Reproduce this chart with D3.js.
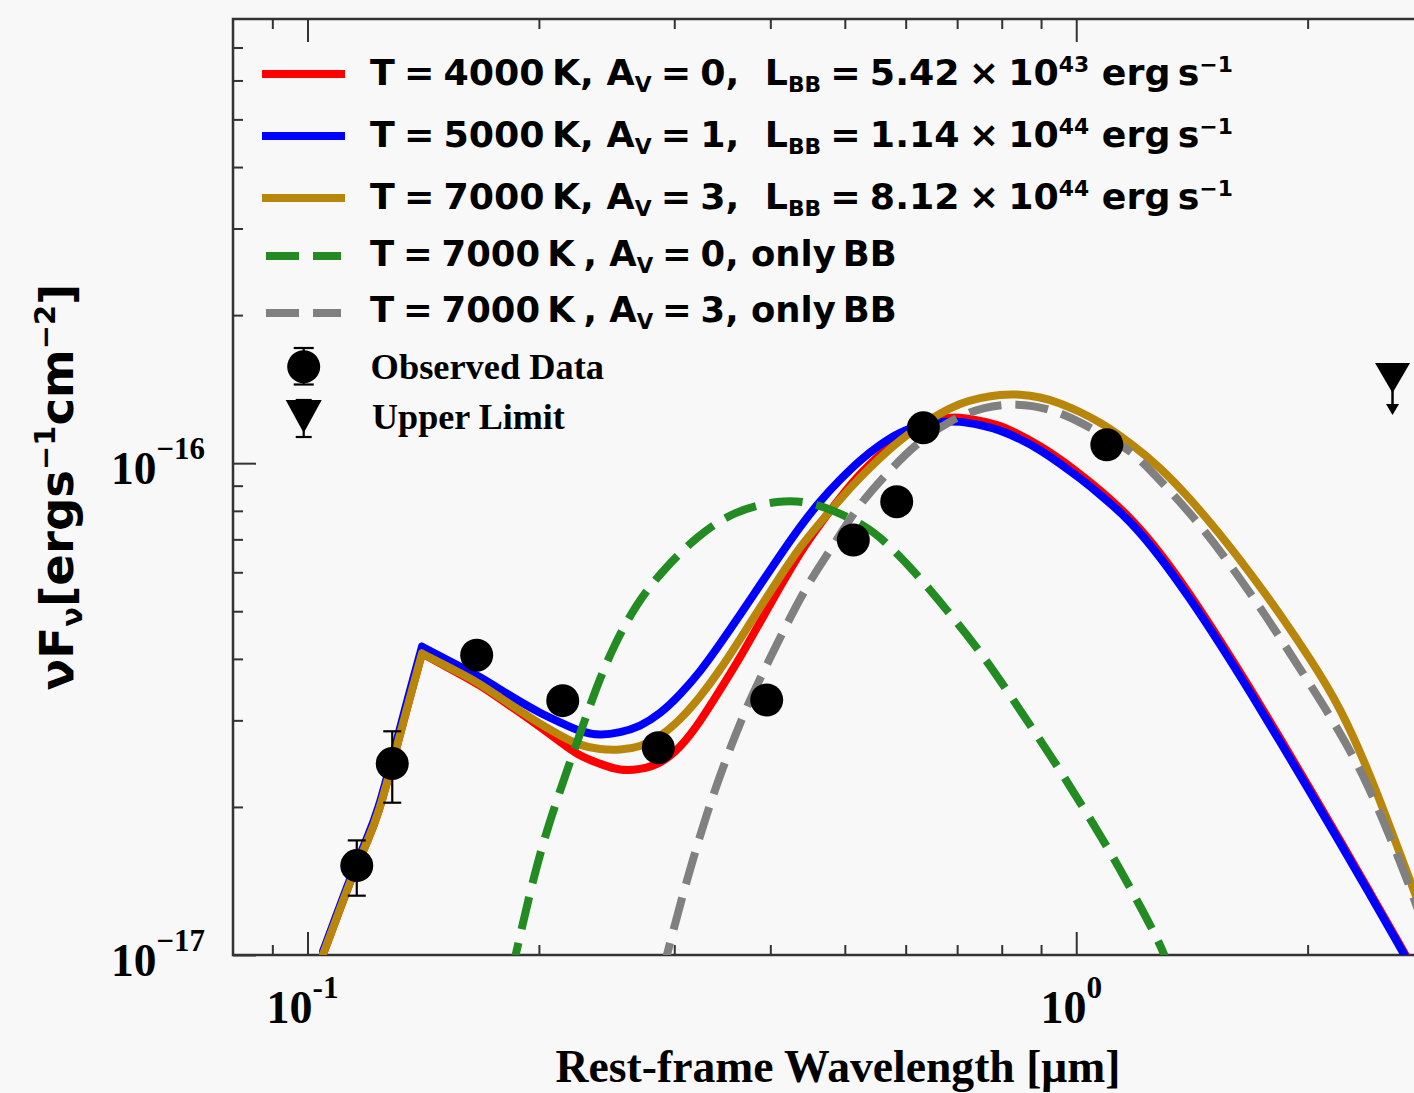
<!DOCTYPE html>
<html>
<head>
<meta charset="utf-8">
<script src="https://cdn.jsdelivr.net/npm/d3@7"></script>
<style>
  html, body { margin: 0; padding: 0; background: #f8f8f8; }
  svg { display: block; }
  text { white-space: pre; }
</style>
</head>
<body>
<svg id="chart" width="1414" height="1093"></svg>
<script>
// ---------------------------------------------------------------
// Data: rest-frame wavelength in μm, νFν in units of 1e-17 erg s^-1 cm^-2
// ---------------------------------------------------------------
const FLUX_UNIT = 1e-17;

// wavelength grid shared by the three full SED models
const wavelength = [0.1048, 0.1096, 0.1146, 0.1199, 0.1235, 0.1292, 0.1351, 0.1409,
  0.1487, 0.1579, 0.1677, 0.1780, 0.1890, 0.2007, 0.2131, 0.2262, 0.2402, 0.2550,
  0.2707, 0.2875, 0.3052, 0.3241, 0.3441, 0.3653, 0.3879, 0.4118, 0.4372, 0.4642,
  0.4929, 0.5233, 0.5556, 0.5899, 0.6263, 0.6650, 0.7061, 0.7497, 0.7959, 0.8451,
  0.8973, 0.9526, 1.011, 1.074, 1.175, 1.285, 1.406, 1.538, 1.683, 1.841, 2.015,
  2.204, 2.411, 2.638, 2.801];
// index of the short-wavelength break where the models turn over
const BREAK_INDEX = 7;

// T = 4000 K, Av = 0
const fluxT4000Av0 = [1.005, 1.211, 1.461, 1.715, 1.924, 2.480, 3.227, 4.103,
  3.915, 3.727, 3.535, 3.316, 3.109, 2.909, 2.713, 2.531, 2.448, 2.367, 2.382, 2.444,
  2.632, 2.977, 3.458, 4.017, 4.753, 5.602, 6.581, 7.523, 8.509, 9.530, 10.41, 11.32,
  11.86, 12.36, 12.42, 12.19, 11.96, 11.41, 10.84, 10.20, 9.507, 8.822, 7.774, 6.599,
  5.420, 4.370, 3.490, 2.762, 2.175, 1.709, 1.340, 1.048, 0.885];

// T = 5000 K, Av = 1
const fluxT5000Av1 = [1.019, 1.229, 1.482, 1.746, 1.963, 2.551, 3.332, 4.235,
  4.053, 3.862, 3.675, 3.468, 3.273, 3.104, 2.972, 2.844, 2.792, 2.832, 2.913, 3.090,
  3.379, 3.762, 4.289, 4.912, 5.655, 6.492, 7.428, 8.379, 9.266, 10.15, 10.91, 11.59,
  11.92, 12.16, 12.17, 11.96, 11.68, 11.20, 10.65, 9.981, 9.322, 8.638, 7.647, 6.462,
  5.307, 4.289, 3.425, 2.717, 2.145, 1.689, 1.327, 1.038, 0.877];

// T = 7000 K, Av = 3
const fluxT7000Av3 = [1.005, 1.211, 1.461, 1.715, 1.924, 2.480, 3.227, 4.103,
  3.930, 3.745, 3.557, 3.339, 3.135, 2.951, 2.796, 2.664, 2.616, 2.609, 2.646, 2.775,
  3.005, 3.344, 3.798, 4.385, 5.090, 5.879, 6.765, 7.569, 8.446, 9.357, 10.25, 11.15,
  11.90, 12.63, 13.24, 13.58, 13.80, 13.81, 13.63, 13.26, 12.72, 12.13, 11.01, 9.819,
  8.477, 7.176, 5.993, 4.935, 4.006, 3.199, 2.334, 1.605, 1.253];

// blackbody only, T = 7000 K, Av = 0
const bbAv0Wave = [0.1840, 0.1872, 0.1987, 0.2109, 0.2239, 0.2377, 0.2499, 0.2679,
  0.2901, 0.3206, 0.3581, 0.4118, 0.4463, 0.4831, 0.5339, 0.5614, 0.6139, 0.6787,
  0.7423, 0.8121, 0.8794, 0.9524, 1.032, 1.117, 1.199, 1.285, 1.317];
const bbAv0Flux = [0.911, 1.024, 1.539, 2.066, 2.694, 3.512, 4.235, 5.188, 6.066,
  7.089, 7.995, 8.418, 8.351, 8.032, 7.428, 6.981, 6.066, 5.028, 4.235, 3.458, 2.868,
  2.378, 1.942, 1.584, 1.294, 1.056, 0.954];

// blackbody only, T = 7000 K, Av = 3
const bbAv3Wave = [0.2890, 0.2945, 0.3114, 0.3306, 0.3510, 0.3726, 0.3957, 0.4202,
  0.4505, 0.4831, 0.5182, 0.5725, 0.6202, 0.6854, 0.7570, 0.8367, 0.9246, 1.0215,
  1.1288, 1.1869, 1.3114, 1.4492, 1.6011, 1.7694, 1.9550, 2.1601, 2.3875, 2.6378,
  2.7510, 2.8433];
const bbAv3Flux = [0.911, 1.024, 1.421, 1.942, 2.531, 3.199, 3.888, 4.709, 5.789,
  6.788, 8.146, 9.689, 10.98, 12.24, 13.03, 13.24, 12.93, 12.05, 10.98, 10.53, 8.929,
  7.509, 6.097, 4.866, 3.818, 2.995, 2.269, 1.550, 1.303, 1.124];

// photometry
const obsWave = [0.1159, 0.1289, 0.1660, 0.2148, 0.2860, 0.3957, 0.5129, 0.5841, 0.6326, 1.096];
const obsFlux = [1.52, 2.45, 4.07, 3.29, 2.64, 3.30, 6.98, 8.35, 11.8, 10.9];
const obsErrLow = [1.32, 2.04, null, null, null, null, null, null, null, null];
const obsErrHigh = [1.71, 2.85, null, null, null, null, null, null, null, null];

// upper limit
const limitWave = [2.579];
const limitFlux = [14.9];

// axis ticks
const xMajorTicks = [0.1, 1];
const xMajorLabels = [["10", "-1"], ["10", "0"]];
const xMinorTicks = [0.09, 0.2, 0.3, 0.4, 0.5, 0.6, 0.7, 0.8, 0.9, 2, 3];
const yMajorTicks = [1e-17, 1e-16];
const yMajorLabels = [["10", "\u221217"], ["10", "\u221216"]];
const yMinorTicks = [2e-17, 3e-17, 4e-17, 5e-17, 6e-17, 7e-17, 8e-17, 9e-17,
  2e-16, 3e-16, 4e-16, 5e-16, 6e-16, 7e-16];

// legend labels (text runs with sub/superscripts); "\u2005" is the narrow
// space used around relation signs
const seriesNames = ["T4000_Av0", "T5000_Av1", "T7000_Av3", "BB_Av0", "BB_Av3"];
const seriesColors = ["#ff0000", "#0000ff", "#b8860b", "#228b22", "#808080"];
const seriesLabels = [
  [{t: "T\u2005=\u20054000\u2009K, A"}, {t: "V", sub: 1}, {t: "\u2005=\u20050,  L"}, {t: "BB", sub: 1},
   {t: "\u2005=\u20055.42\u2005\u00d7\u200510"}, {t: "43", sup: 1}, {t: " erg\u2009s"}, {t: "\u22121", sup: 1}],
  [{t: "T\u2005=\u20055000\u2009K, A"}, {t: "V", sub: 1}, {t: "\u2005=\u20051,  L"}, {t: "BB", sub: 1},
   {t: "\u2005=\u20051.14\u2005\u00d7\u200510"}, {t: "44", sup: 1}, {t: " erg\u2009s"}, {t: "\u22121", sup: 1}],
  [{t: "T\u2005=\u20057000\u2009K, A"}, {t: "V", sub: 1}, {t: "\u2005=\u20053,  L"}, {t: "BB", sub: 1},
   {t: "\u2005=\u20058.12\u2005\u00d7\u200510"}, {t: "44", sup: 1}, {t: " erg\u2009s"}, {t: "\u22121", sup: 1}],
  [{t: "T\u2005=\u20057000\u2009K\u2005, A"}, {t: "V", sub: 1}, {t: "\u2005=\u20050, only\u2009BB"}],
  [{t: "T\u2005=\u20057000\u2009K\u2005, A"}, {t: "V", sub: 1}, {t: "\u2005=\u20053, only\u2009BB"}]
];
const markerLabels = ["Observed Data", "Upper Limit"];

// ---------------------------------------------------------------
// Layout and scales
// ---------------------------------------------------------------
const W = 1414, H = 1093;
const plot = {left: 233, right: 1443, top: 19, bottom: 955};
const BG = "#f8f8f8";
const AXIS = "#333333";
const SANS = "'DejaVu Sans', sans-serif";
const SERIF = "'Liberation Serif', 'Times New Roman', serif";

const x = d3.scaleLog().domain([0.08, 3.0]).range([plot.left, plot.right]);
const y = d3.scaleLog().domain([1e-17, 8e-16]).range([plot.bottom, plot.top]);

const svg = d3.select("#chart");
svg.append("rect").attr("width", W).attr("height", H).attr("fill", BG);

svg.append("defs").append("clipPath").attr("id", "plot-clip")
  .append("rect")
  .attr("x", plot.left).attr("y", plot.top)
  .attr("width", plot.right - plot.left).attr("height", plot.bottom - plot.top);

// ---------------------------------------------------------------
// Ticks (all pointing inward) and frame
// ---------------------------------------------------------------
function ticks(axisFn, scale, values, size, tx, ty) {
  const g = svg.append("g")
    .attr("transform", `translate(${tx},${ty})`)
    .attr("color", AXIS)
    .call(axisFn(scale).tickValues(values).tickSizeInner(-size).tickSizeOuter(0).tickFormat(""));
  g.select(".domain").remove();
  g.selectAll(".tick line").attr("stroke-width", 2);
  return g;
}
const MAJ = 23, MIN = 10;
ticks(d3.axisBottom, x, xMajorTicks, MAJ, 0, plot.bottom);
ticks(d3.axisBottom, x, xMinorTicks, MIN, 0, plot.bottom);
ticks(d3.axisTop, x, xMajorTicks, MAJ, 0, plot.top);
ticks(d3.axisTop, x, xMinorTicks, MIN, 0, plot.top);
ticks(d3.axisLeft, y, yMajorTicks, MAJ, plot.left, 0);
ticks(d3.axisLeft, y, yMinorTicks, MIN, plot.left, 0);
ticks(d3.axisRight, y, yMajorTicks, MAJ, plot.right, 0);
ticks(d3.axisRight, y, yMinorTicks, MIN, plot.right, 0);

svg.append("rect")
  .attr("x", plot.left).attr("y", plot.top)
  .attr("width", plot.right - plot.left).attr("height", plot.bottom - plot.top)
  .attr("fill", "none").attr("stroke", AXIS).attr("stroke-width", 2.5);

// ---------------------------------------------------------------
// Text helpers
// ---------------------------------------------------------------
function rich(parent, parts, o) {
  const t = parent.append("text")
    .attr("font-family", o.family).attr("font-weight", o.weight || "bold")
    .attr("font-size", o.size).attr("fill", "#000");
  let shift = 0;
  parts.forEach(p => {
    const target = p.sub ? o.subShift * o.size : p.sup ? o.supShift * o.size : 0;
    const ts = t.append("tspan").text(p.t).attr("dy", target - shift);
    if (p.sub || p.sup) ts.attr("font-size", o.size * o.scriptScale);
    shift = target;
  });
  return t;
}
// place a text at (px, py) and stretch it horizontally to a given width
function place(t, px, py, width, rotate) {
  const w = t.node().getComputedTextLength();
  const s = width ? width / w : 1;
  t.attr("transform", `translate(${px},${py})` + (rotate ? ` rotate(${rotate})` : "") + ` scale(${s},1)`);
}

// tick labels
const tickFont = {family: SERIF, weight: "bold", size: 46, scriptScale: 0.68, supShift: -0.55, subShift: 0};
yMajorTicks.forEach((v, i) => {
  const t = rich(svg, [{t: yMajorLabels[i][0]}, {t: yMajorLabels[i][1], sup: 1}], tickFont)
    .attr("text-anchor", "start");
  place(t, 111, y(v) + 21, 94);
});
xMajorTicks.forEach((v, i) => {
  const t = rich(svg, [{t: xMajorLabels[i][0]}, {t: xMajorLabels[i][1], sup: 1}], tickFont)
    .attr("text-anchor", "middle");
  place(t, x(v) - 5, 1023, null);
});

// axis titles
const xTitle = svg.append("text")
  .attr("font-family", SERIF).attr("font-weight", "bold").attr("font-size", 47)
  .attr("text-anchor", "middle").text("Rest-frame Wavelength [\u03bcm]");
place(xTitle, (plot.left + plot.right) / 2, 1082, 565);

const yTitle = rich(svg, [{t: "\u03bdF"}, {t: "\u03bd", sub: 1}, {t: "[ergs"}, {t: "\u22121", sup: 1},
  {t: "cm"}, {t: "\u22122", sup: 1}, {t: "]"}],
  {family: SANS, weight: "bold", size: 46, scriptScale: 0.62, supShift: -0.38, subShift: 0.2})
  .attr("text-anchor", "middle");
place(yTitle, 72.5, (plot.top + plot.bottom) / 2, 407, -90);

// ---------------------------------------------------------------
// Model curves
// ---------------------------------------------------------------
const line = d3.line()
  .x(d => x(d[0]))
  .y(d => y(d[1] * FLUX_UNIT))
  .curve(d3.curveBasis);

const curves = svg.append("g").attr("clip-path", "url(#plot-clip)");
const seriesData = [
  d3.zip(wavelength, fluxT4000Av0),
  d3.zip(wavelength, fluxT5000Av1),
  d3.zip(wavelength, fluxT7000Av3),
  d3.zip(bbAv0Wave, bbAv0Flux),
  d3.zip(bbAv3Wave, bbAv3Flux)
];
const dashed = [false, false, false, true, true];
const LW = 8;
const DASH = "33,14";

seriesData.forEach((d, i) => {
  // full models have a sharp turnover at the break: draw both sides separately
  const pathD = dashed[i] ? line(d)
    : line(d.slice(0, BREAK_INDEX + 1)) + line(d.slice(BREAK_INDEX));
  curves.append("path")
    .attr("class", "sed " + seriesNames[i])
    .attr("d", pathD)
    .attr("fill", "none")
    .attr("stroke", seriesColors[i])
    .attr("stroke-width", LW)
    .attr("stroke-linejoin", "round")
    .attr("stroke-linecap", dashed[i] ? "butt" : "round")
    .attr("stroke-dasharray", dashed[i] ? DASH : null);
});

// ---------------------------------------------------------------
// Photometry and upper limit
// ---------------------------------------------------------------
const pts = svg.append("g");
const CAP = 9;
obsWave.forEach((w, i) => {
  if (obsErrLow[i] == null) return;
  const cx = x(w), y0 = y(obsErrLow[i] * FLUX_UNIT), y1 = y(obsErrHigh[i] * FLUX_UNIT);
  pts.append("line").attr("x1", cx).attr("x2", cx).attr("y1", y0).attr("y2", y1)
    .attr("stroke", "#000").attr("stroke-width", 2.2);
  [y0, y1].forEach(yy => pts.append("line")
    .attr("x1", cx - CAP).attr("x2", cx + CAP).attr("y1", yy).attr("y2", yy)
    .attr("stroke", "#000").attr("stroke-width", 2.2));
});
pts.selectAll("circle.obs").data(d3.zip(obsWave, obsFlux)).join("circle")
  .attr("class", "obs")
  .attr("cx", d => x(d[0])).attr("cy", d => y(d[1] * FLUX_UNIT))
  .attr("r", 16.5).attr("fill", "#000");

function downTriangle(g, cx, cy, w, h) {
  g.append("path")
    .attr("d", `M${cx - w / 2},${cy - h / 2}L${cx + w / 2},${cy - h / 2}L${cx},${cy + h / 2}Z`)
    .attr("fill", "#000");
}
d3.zip(limitWave, limitFlux).forEach(([w, f]) => {
  const cx = x(w), cy = y(f * FLUX_UNIT);
  downTriangle(pts, cx, cy, 35, 30);
  pts.append("line").attr("x1", cx).attr("x2", cx).attr("y1", cy + 10).attr("y2", cy + 28)
    .attr("stroke", "#000").attr("stroke-width", 2.5);
  pts.append("path")
    .attr("d", `M${cx - 6.5},${cy + 26}L${cx + 6.5},${cy + 26}L${cx},${cy + 37}Z`)
    .attr("fill", "#000");
});

// ---------------------------------------------------------------
// Legend
// ---------------------------------------------------------------
const legend = svg.append("g");
const rowLineY = [74, 136, 198, 256, 313];
const rowBase = [85, 147, 209, 266, 322];
const rowWidth = [863, 863, 863, 527, 527];
const legendFont = {family: SANS, weight: "bold", size: 35, scriptScale: 0.6, supShift: -0.38, subShift: 0.19};

seriesLabels.forEach((parts, i) => {
  legend.append("line")
    .attr("x1", 266).attr("x2", 341)
    .attr("y1", rowLineY[i]).attr("y2", rowLineY[i])
    .attr("stroke", seriesColors[i]).attr("stroke-width", LW)
    .attr("stroke-linecap", dashed[i] ? "butt" : "square")
    .attr("stroke-dasharray", dashed[i] ? DASH : null);
  const t = rich(legend, parts, legendFont);
  place(t, 370, rowBase[i], rowWidth[i]);
});

// observed data marker
{
  const cx = 303.7, cy = 366.7;
  legend.append("line").attr("x1", cx).attr("x2", cx).attr("y1", 348).attr("y2", 384.5)
    .attr("stroke", "#000").attr("stroke-width", 2.2);
  [348, 384.5].forEach(yy => legend.append("line")
    .attr("x1", cx - 10).attr("x2", cx + 10).attr("y1", yy).attr("y2", yy)
    .attr("stroke", "#000").attr("stroke-width", 2.2));
  legend.append("circle").attr("cx", cx).attr("cy", cy).attr("r", 16.5).attr("fill", "#000");
}
// upper limit marker
{
  const cx = 303.7, cy = 416.5;
  legend.append("line").attr("x1", cx).attr("x2", cx).attr("y1", 400).attr("y2", 437)
    .attr("stroke", "#000").attr("stroke-width", 2.2);
  [400, 437].forEach(yy => legend.append("line")
    .attr("x1", cx - 8).attr("x2", cx + 8).attr("y1", yy).attr("y2", yy)
    .attr("stroke", "#000").attr("stroke-width", 2.2));
  downTriangle(legend, cx, cy, 36, 33);
}
const obsText = legend.append("text").attr("font-family", SERIF).attr("font-weight", "bold")
  .attr("font-size", 35).text(markerLabels[0]);
place(obsText, 370.6, 378.5, 233.5);
const limText = legend.append("text").attr("font-family", SERIF).attr("font-weight", "bold")
  .attr("font-size", 35).text(markerLabels[1]);
place(limText, 372, 429, 193);
</script>
</body>
</html>
